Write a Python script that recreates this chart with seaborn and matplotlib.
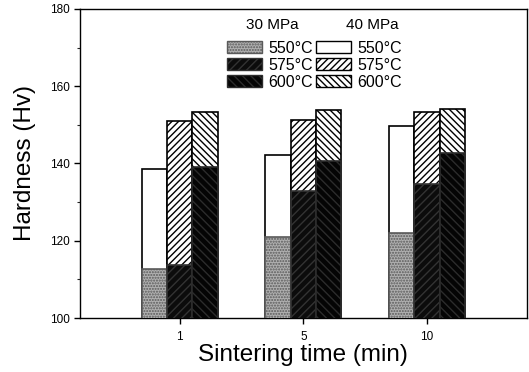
import numpy as np
import pandas as pd
import matplotlib
matplotlib.use("Agg")
import matplotlib.pyplot as plt
import seaborn as sns
from matplotlib.patches import Rectangle
from matplotlib.ticker import MultipleLocator

sns.set_theme(style="ticks")
plt.rcParams["font.family"] = ["Liberation Sans", "DejaVu Sans"]
plt.rcParams["hatch.linewidth"] = 1.0
plt.rcParams["text.color"] = "black"
plt.rcParams["axes.labelcolor"] = "black"

times = ["1", "5", "10"]
temps = ["550°C", "575°C", "600°C"]
# hardness (Hv) per temperature, one value per sintering time
h30_550 = [112.6, 121.1, 121.9]
h30_575 = [113.7, 133.0, 134.7]
h30_600 = [139.0, 140.7, 142.7]
h40_550 = [138.7, 142.3, 149.7]
h40_575 = [151.0, 151.2, 153.3]
h40_600 = [153.3, 153.8, 154.2]

df30 = pd.DataFrame({
    "time": times * 3,
    "temp": np.repeat(temps, 3),
    "hardness": h30_550 + h30_575 + h30_600,
})
df40 = pd.DataFrame({
    "time": times * 3,
    "temp": np.repeat(temps, 3),
    "hardness": h40_550 + h40_575 + h40_600,
})

style40 = [
    dict(facecolor="white", hatch=None, edgecolor="black"),
    dict(facecolor="white", hatch="/////", edgecolor="black"),
    dict(facecolor="white", hatch="\\\\\\\\\\", edgecolor="black"),
]
style30 = [
    dict(facecolor="#b0b0b0", hatch="......", edgecolor="#5a5a5a"),
    dict(facecolor="#0c0c0c", hatch="////", edgecolor="#333333"),
    dict(facecolor="#050505", hatch="\\\\\\\\", edgecolor="#2c2c2c"),
]

fig = plt.figure(figsize=(5.29, 3.72), dpi=100)
ax = fig.add_axes([0.151, 0.145, 0.845, 0.831])

sns.barplot(data=df40, x="time", y="hardness", hue="temp", order=times,
            hue_order=temps, width=0.613, gap=0, legend=False, ax=ax,
            errorbar=None)
n40 = len(ax.containers)
sns.barplot(data=df30, x="time", y="hardness", hue="temp", order=times,
            hue_order=temps, width=0.613, gap=0, legend=False, ax=ax,
            errorbar=None)

for cont, st in zip(ax.containers[:n40], style40):
    for p in cont:
        p.set_facecolor(st["facecolor"])
        p.set_edgecolor(st["edgecolor"])
        p.set_hatch(st["hatch"])
        p.set_linewidth(1.2)
for cont, st in zip(ax.containers[n40:], style30):
    for p in cont:
        p.set_facecolor(st["facecolor"])
        p.set_edgecolor(st["edgecolor"])
        p.set_hatch(st["hatch"])
        p.set_linewidth(1.2)
        p.set_zorder(3)

ax.set_ylim(100, 180)
ax.set_xlim(-0.806, 2.806)
ax.yaxis.set_major_locator(MultipleLocator(20))
ax.yaxis.set_minor_locator(MultipleLocator(10))
ax.tick_params(axis="both", which="major", direction="out", length=4,
               width=1, labelsize=8.5, color="black", labelcolor="black")
ax.tick_params(axis="x", which="major", pad=5)
ax.tick_params(axis="y", which="minor", direction="out", length=2.5, width=0.8)
for s in ax.spines.values():
    s.set_visible(True)
    s.set_color("black")
    s.set_linewidth(1.0)

ax.set_xlabel("Sintering time (min)", fontsize=17.5, labelpad=1)
ax.set_ylabel("Hardness (Hv)", fontsize=17.5, labelpad=10)

blank = Rectangle((0, 0), 1, 1, facecolor="none", edgecolor="none")
handles = [blank]
labels = [" "]
for st, t in zip(style30, temps):
    handles.append(Rectangle((0, 0), 1, 1, facecolor=st["facecolor"],
                             edgecolor=st["edgecolor"], hatch=st["hatch"]))
    labels.append(t)
handles.append(blank)
labels.append(" ")
for st, t in zip(style40, temps):
    handles.append(Rectangle((0, 0), 1, 1, facecolor=st["facecolor"],
                             edgecolor=st["edgecolor"], hatch=st["hatch"]))
    labels.append(t)

ax.legend(handles, labels, ncol=2, loc="upper center",
          bbox_to_anchor=(0.525, 0.988), frameon=False, fontsize=11.5,
          handlelength=2.2, handleheight=0.72, handletextpad=0.4,
          columnspacing=0.2, labelspacing=0.12, borderpad=0.2)
ax.text(0.431, 0.948, "30 MPa", transform=ax.transAxes, ha="center",
        va="center", fontsize=11)
ax.text(0.655, 0.948, "40 MPa", transform=ax.transAxes, ha="center",
        va="center", fontsize=11)

fig.savefig("out.png", dpi=100)
